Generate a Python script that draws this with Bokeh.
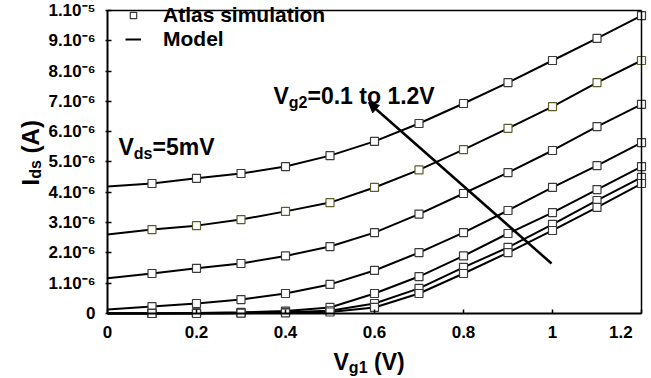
from math import pi
from bokeh.plotting import figure
from bokeh.models import (Range1d, FixedTicker, Label, Arrow, NormalHead, Legend, LegendItem,
                          LinearAxis)
from bokeh.embed import file_html
from bokeh.resources import INLINE

# ---- data (Ids in units of 1e-6 A) ----
vg1 = [0.0, 0.1, 0.2, 0.3, 0.4, 0.5, 0.6, 0.7, 0.8, 0.9, 1.0, 1.1, 1.2]
ids_c1 = [4.19, 4.29, 4.46, 4.62, 4.85, 5.21, 5.68, 6.27, 6.93, 7.62, 8.35, 9.08, 9.83]
ids_c2 = [2.61, 2.77, 2.90, 3.10, 3.37, 3.66, 4.16, 4.74, 5.41, 6.11, 6.83, 7.62, 8.35]
ids_c3 = [1.16, 1.32, 1.49, 1.65, 1.90, 2.21, 2.67, 3.28, 3.96, 4.65, 5.38, 6.17, 6.90]
ids_c4 = [0.13, 0.23, 0.33, 0.46, 0.66, 0.96, 1.42, 2.01, 2.67, 3.40, 4.16, 4.88, 5.64]
ids_c5 = [0.01, 0.01, 0.02, 0.04, 0.08, 0.20, 0.66, 1.22, 1.90, 2.64, 3.33, 4.09, 4.85]
ids_c6 = [0.00, 0.00, 0.01, 0.02, 0.04, 0.09, 0.33, 0.83, 1.52, 2.18, 2.94, 3.73, 4.49]
ids_c7 = [0.00, 0.00, 0.00, 0.01, 0.02, 0.05, 0.20, 0.66, 1.32, 2.01, 2.74, 3.50, 4.29]
curves = [ids_c1, ids_c2, ids_c3, ids_c4, ids_c5, ids_c6, ids_c7]
marker_outline = ["#3a3a3a", "#5e5e2c", "#3a3a3a", "#3a3a3a", "#3a3a3a", "#3a3a3a", "#3a3a3a"]

x_ticks = [0, 0.2, 0.4, 0.6, 0.8, 1.0, 1.2]
x_tick_labels = ["0", "0.2", "0.4", "0.6", "0.8", "1", "1.2"]
y_ticks = [0, 1, 2, 3, 4, 5, 6, 7, 8, 9, 10]
y_tick_labels = ["0", "1.10\u207b\u2076", "2.10\u207b\u2076", "3.10\u207b\u2076", "4.10\u207b\u2076",
                 "5.10\u207b\u2076", "6.10\u207b\u2076", "7.10\u207b\u2076", "8.10\u207b\u2076",
                 "9.10\u207b\u2076", "1.10\u207b\u2075"]

FONT = "Liberation Sans"
NBSP = "\u00a0"

# frame covers the whole canvas; axes are pinned at the data origin
p = figure(width=651, height=378, output_backend="svg", toolbar_location=None,
           x_range=Range1d(-0.24045, 1.22247), y_range=Range1d(-2.1452, 10.330),
           min_border=0)
p.grid.visible = False
p.outline_line_color = None
p.background_fill_color = "white"
p.border_fill_color = "white"

for ax in (p.xaxis[0], p.yaxis[0]):
    ax.axis_line_width = 2
    ax.major_tick_line_width = 1.5
    ax.minor_tick_line_color = None
    ax.major_label_text_font = FONT
    ax.major_label_text_font_style = "bold"
    ax.major_label_text_font_size = "17px"
    ax.major_label_text_color = "black"

p.xaxis.fixed_location = 0
p.xaxis.bounds = (x_ticks[0], x_ticks[-1])
p.xaxis.ticker = FixedTicker(ticks=x_ticks)
x_over = dict(zip(x_ticks, x_tick_labels))
x_over[x_ticks[-1]] = x_tick_labels[-1] + NBSP * 4
p.xaxis.major_label_overrides = x_over
p.xaxis.major_tick_in = 4
p.xaxis.major_tick_out = 0
p.xaxis.major_label_standoff = 9

p.yaxis.fixed_location = 0
p.yaxis.bounds = (y_ticks[0], y_ticks[-1])
p.yaxis.ticker = FixedTicker(ticks=y_ticks)
p.yaxis.major_label_overrides = dict(zip(y_ticks, y_tick_labels))
p.yaxis.major_tick_in = 4
p.yaxis.major_tick_out = 2
p.yaxis.major_label_standoff = 10

# top and right borders of the plot box
top_ax = LinearAxis(fixed_location=y_ticks[-1], bounds=(x_ticks[0], x_ticks[-1]),
                    ticker=FixedTicker(ticks=[]), axis_line_width=1.5,
                    minor_tick_line_color=None, major_tick_line_color=None)
right_ax = LinearAxis(fixed_location=x_ticks[-1], bounds=(y_ticks[0], y_ticks[-1]),
                      ticker=FixedTicker(ticks=[]), axis_line_width=1.5,
                      minor_tick_line_color=None, major_tick_line_color=None)
p.add_layout(top_ax, "above")
p.add_layout(right_ax, "right")

line_renderers = []
for c in curves:
    line_renderers.append(p.line(vg1, c, line_color="black", line_width=2))
scatter_renderers = []
for c, oc in zip(curves, marker_outline):
    scatter_renderers.append(p.scatter(vg1[1:], c[1:], marker="square", size=8,
                                       fill_color="white", line_color=oc, line_width=1.2))

legend = Legend(items=[LegendItem(label="Atlas simulation", renderers=[scatter_renderers[0]]),
                       LegendItem(label="Model", renderers=[line_renderers[0]])],
                location=(125, 327), border_line_color=None, background_fill_alpha=0,
                padding=0, margin=0, spacing=0, glyph_width=16, glyph_height=20,
                label_standoff=22, label_height=20, label_text_font=FONT,
                label_text_font_style="bold", label_text_font_size="21px",
                label_text_color="black")
p.add_layout(legend)


def txt(x, y, s, size, angle=0.0):
    p.add_layout(Label(x=x, y=y, text=s, text_font=FONT, text_font_style="bold",
                       text_font_size=size, text_color="black", angle=angle,
                       text_align="left", text_baseline="alphabetic"))


# Vds annotation
txt(0.0247, 5.479, "V", "23px")
txt(0.0591, 5.297, "ds", "16px")
txt(0.1011, 5.479, "=5mV", "23px")

# Vg2 annotation
txt(0.3730, 7.162, "V", "23px")
txt(0.4074, 6.980, "g2", "16px")
txt(0.4494, 7.162, "=0.1 to 1.2V", "23px")

# arrow
arrow_start = (0.9978, 1.650)
arrow_end = (0.5865, 6.964)
p.add_layout(Arrow(end=NormalHead(size=10, fill_color="black", line_color="black"),
                   x_start=arrow_start[0], y_start=arrow_start[1],
                   x_end=arrow_end[0], y_end=arrow_end[1],
                   line_color="black", line_width=2.5))

# x axis title
txt(0.5080, -1.617, "V", "23px")
txt(0.5424, -1.782, "g1", "16px")
txt(0.5845, -1.617, NBSP + "(V)", "23px")

# y axis title (rotated)
txt(-0.1730, 4.224, "I", "24px", pi / 2)
txt(-0.1618, 4.446, "ds", "16px", pi / 2)
txt(-0.1730, 5.063, NBSP + "(A)", "24px", pi / 2)

open("out.html", "w").write(file_html(p, INLINE))
